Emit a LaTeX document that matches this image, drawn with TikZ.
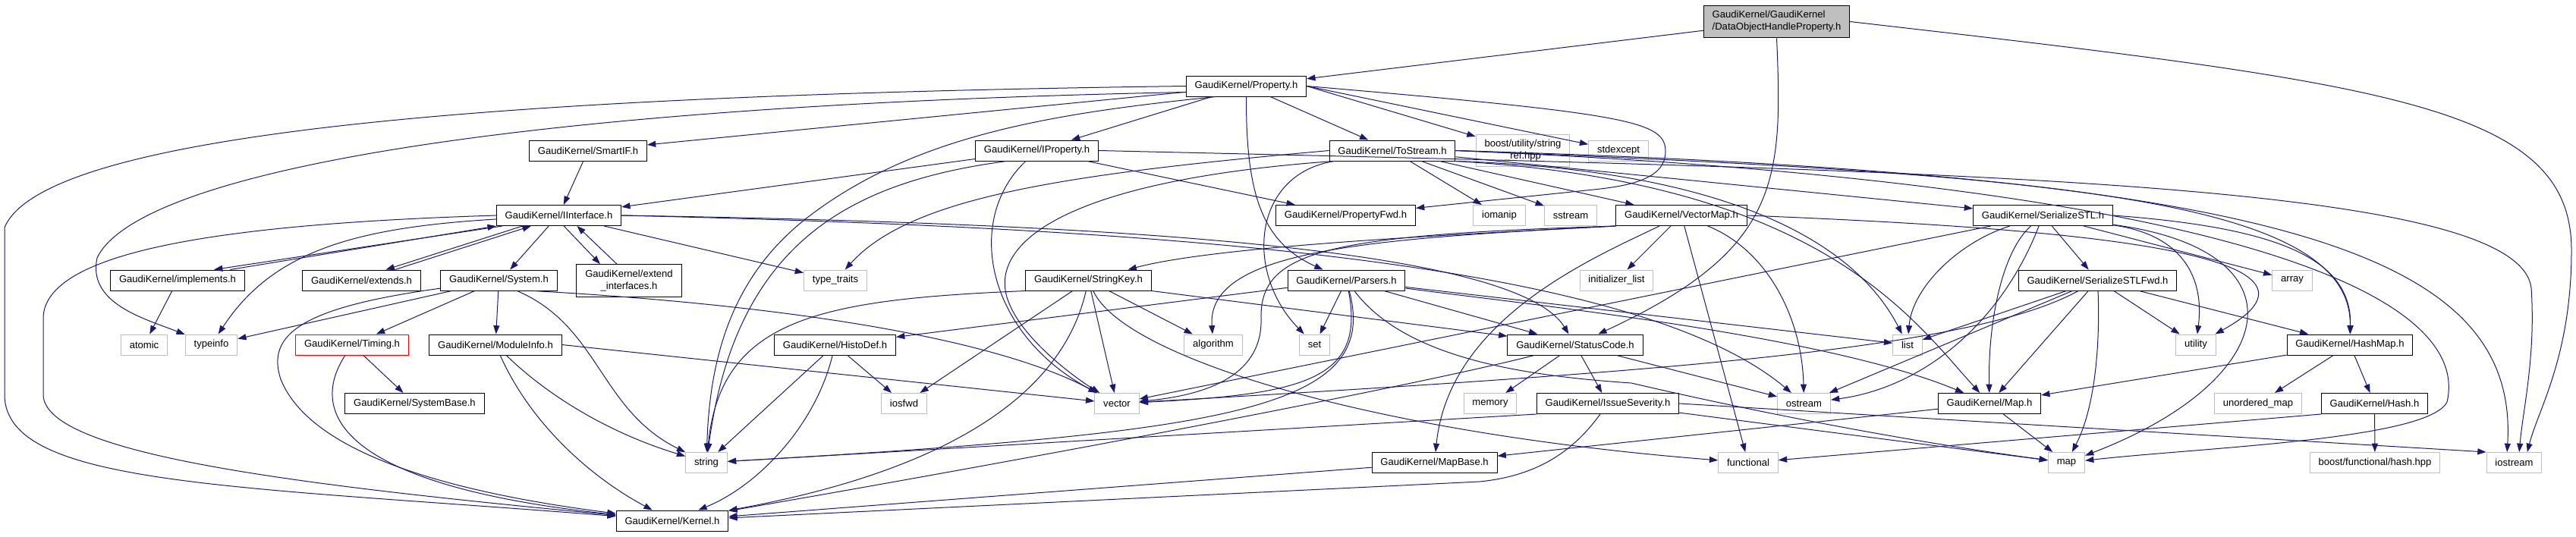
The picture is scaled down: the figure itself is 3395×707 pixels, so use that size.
\documentclass[tikz,border=0pt]{standalone}
\usepackage{fontspec}
\setmainfont{Liberation Sans}
\usetikzlibrary{arrows.meta}
\definecolor{edgeblue}{HTML}{191970}
\definecolor{lgray}{HTML}{BFBFBF}

\begin{document}
\begin{tikzpicture}[x=0.75pt,y=-0.75pt,font=\fontsize{9.8}{12}\selectfont,
  every node/.style={draw,rectangle,inner xsep=8.5pt,inner ysep=5.5pt,minimum height=20.25pt,line width=0.75pt},
  hdr/.style={draw=black},
  ext/.style={draw=lgray},
  dep/.style={draw=edgeblue,line width=0.75pt,-{Triangle[length=8.5pt,width=6pt]}}]
  \useasboundingbox (0,0) rectangle (3395,707);

  % rows of headers, top to bottom
  \node (dohp) at (2341.5,28.5)[hdr,fill=lgray,align=left]{GaudiKernel/GaudiKernel\\/DataObjectHandleProperty.h};
  \node (property) at (1642.5,113.5)[hdr]{GaudiKernel/Property.h};

  \node (smartif) at (775,198.5)[hdr]{GaudiKernel/SmartIF.h};
  \node (iproperty) at (1366.5,198.5)[hdr]{GaudiKernel/IProperty.h};
  \node (tostream) at (1835,198.5)[hdr]{GaudiKernel/ToStream.h};
  \node (stringref) at (2007,198.5)[ext,align=center]{boost/utility/string\\\_ref.hpp};
  \node (stdexcept) at (2133,198.5)[ext]{stdexcept};

  \node (iinterface) at (736.5,284)[hdr]{GaudiKernel/IInterface.h};
  \node (propertyfwd) at (1773.5,284)[hdr]{GaudiKernel/PropertyFwd.h};
  \node (iomanip) at (1976,284)[ext]{iomanip};
  \node (sstream) at (2070,284)[ext]{sstream};
  \node (vectormap) at (2216,284)[hdr]{GaudiKernel/VectorMap.h};
  \node (serializestl) at (2692.5,284)[hdr]{GaudiKernel/SerializeSTL.h};

  \node (implements) at (234,369.5)[hdr]{GaudiKernel/implements.h};
  \node (extends) at (476.5,369.5)[hdr]{GaudiKernel/extends.h};
  \node (system) at (657.5,369.5)[hdr]{GaudiKernel/System.h};
  \node (extendif) at (829,370)[hdr,align=center]{GaudiKernel/extend\\\_interfaces.h};
  \node (typetraits) at (1101,369.5)[ext]{type\_traits};
  \node (stringkey) at (1434.5,369.5)[hdr]{GaudiKernel/StringKey.h};
  \node (parsers) at (1774.5,369.5)[hdr]{GaudiKernel/Parsers.h};
  \node (initlist) at (2130.5,369.5)[ext]{initializer\_list};
  \node (serializestlfwd) at (2764.5,369.5)[hdr]{GaudiKernel/SerializeSTLFwd.h};
  \node (array) at (3021,369.5)[ext]{array};

  \node (atomic) at (190,454.5)[ext]{atomic};
  \node (typeinfo) at (278.5,454.5)[ext]{typeinfo};
  \node (timing) at (464,454.5)[draw=red]{GaudiKernel/Timing.h};
  \node (moduleinfo) at (653,454.5)[hdr]{GaudiKernel/ModuleInfo.h};
  \node (histodef) at (1100.5,454.5)[hdr]{GaudiKernel/HistoDef.h};
  \node (algorithm) at (1599,454.5)[ext]{algorithm};
  \node (set) at (1732.5,454.5)[ext]{set};
  \node (statuscode) at (2076,454.5)[hdr]{GaudiKernel/StatusCode.h};
  \node (list) at (2514,454.5)[ext]{list};
  \node (utility) at (2894,454.5)[ext]{utility};
  \node (hashmap) at (3097,454.5)[hdr]{GaudiKernel/HashMap.h};

  \node (systembase) at (546.5,532)[hdr]{GaudiKernel/SystemBase.h};
  \node (iosfwd) at (1191.5,532)[ext]{iosfwd};
  \node (vector) at (1472,532)[ext]{vector};
  \node (memory) at (1964,532)[ext]{memory};
  \node (issueseverity) at (2119,532)[hdr]{GaudiKernel/IssueSeverity.h};
  \node (ostream) at (2377.5,532)[ext]{ostream};
  \node (maph) at (2622,532)[hdr]{GaudiKernel/Map.h};
  \node (unorderedmap) at (2976,532)[ext]{unordered\_map};
  \node (hash) at (3129.5,532)[hdr]{GaudiKernel/Hash.h};

  \node (string) at (931,610)[ext]{string};
  \node (mapbase) at (1890.5,610)[hdr]{GaudiKernel/MapBase.h};
  \node (functional) at (2304,610)[ext]{functional};
  \node (map) at (2723.5,610)[ext]{map};
  \node (boosthash) at (3130,610)[ext]{boost/functional/hash.hpp};
  \node (iostream) at (3313.5,610)[ext]{iostream};

  \node (kernel) at (886,686.5)[hdr]{GaudiKernel/Kernel.h};

  % DataObjectHandleProperty.h
  \draw[dep] (dohp) -- (property);
  \draw[dep] (dohp.south) .. controls (2350,240) and (2345,330) .. (statuscode);
  \draw[dep] (dohp.east) .. controls (3150,110) and (3389,140) .. (3389,330) .. controls (3389,470) and (3345,540) .. ([xshift=13pt]iostream.north);

  % Property.h
  \draw[dep] (property.west) .. controls (700,125) and (60,170) .. (6,300) -- (6,520) .. controls (6,640) and (300,640) .. (kernel);
  \draw[dep] ([yshift=-6pt]property.west) .. controls (650,140) and (180,230) .. (128,340) .. controls (115,400) and (190,420) .. (typeinfo);
  \draw[dep] (property) -- (smartif);
  \draw[dep] (property) -- (iproperty);
  \draw[dep] ([xshift=30pt]property.south west) .. controls (1380,150) and (1200,180) .. (1060,290) .. controls (960,370) and (935,480) .. (string);
  \draw[dep] (property.south) .. controls (1642,260) and (1665,320) .. (parsers);
  \draw[dep] (property) -- (tostream);
  \draw[dep] (property.east) -- (stringref);
  \draw[dep] (property.east) -- (stdexcept);
  \draw[dep] (property.east) .. controls (2150,150) and (2195,160) .. (2195,200) .. controls (2195,235) and (2150,245) .. (2100,250) -- (propertyfwd);

  % SmartIF.h
  \draw[dep] (smartif) -- (iinterface);

  % IProperty.h
  \draw[dep] (iproperty) -- (iinterface);
  \draw[dep] (iproperty) -- (propertyfwd);
  \draw[dep] ([xshift=-30pt]iproperty.south) .. controls (1120,240) and (970,320) .. (string);
  \draw[dep] (iproperty) .. controls (1270,290) and (1300,440) .. (vector);
  \draw[dep] (iproperty.east) .. controls (2600,225) and (3320,240) .. (3336,380) .. controls (3342,470) and (3325,540) .. ([xshift=5pt]iostream.north);

  % IInterface.h
  \draw[dep] (iinterface.west) .. controls (300,295) and (57,330) .. (57,420) -- (57,520) .. controls (57,600) and (400,640) .. (kernel);
  \draw[dep] (iinterface) .. controls (470,300) and (360,330) .. (typeinfo);
  \draw[dep] ([xshift=6pt]iinterface.south west) -- ([xshift=36pt]implements.north);
  \draw[dep] ([xshift=52pt]implements.north) -- (iinterface.south west);
  \draw[dep] ([xshift=26pt]iinterface.south west) -- ([xshift=24pt]extends.north);
  \draw[dep] ([xshift=33pt]extends.north) -- ([xshift=34.5pt]iinterface.south west);
  \draw[dep] ([xshift=52pt]iinterface.south west) -- ([xshift=11pt]system.north);
  \draw[dep] ([xshift=5pt]iinterface.south) -- ([xshift=-28.5pt]extendif.north);
  \draw[dep] ([xshift=-12pt]extendif.north) -- ([xshift=18pt]iinterface.south);
  \draw[dep] (iinterface) -- (typetraits);
  \draw[dep] (iinterface.east) .. controls (1500,295) and (2000,330) .. (statuscode);
  \draw[dep] (iinterface.east) .. controls (1500,300) and (2150,340) .. (ostream);

  % implements.h
  \draw[dep] (implements) -- (atomic);

  % System.h
  \draw[dep] (system) -- (typeinfo);
  \draw[dep] (system) .. controls (400,405) and (350,440) .. (370,500) .. controls (410,600) and (600,650) .. (kernel);
  \draw[dep] (system) -- (timing);
  \draw[dep] (system) -- (moduleinfo);
  \draw[dep] ([xshift=18pt]system.south) .. controls (790,430) and (790,540) .. (string);
  \draw[dep] ([xshift=-24pt]system.south east) .. controls (1000,400) and (1300,440) .. (vector);

  % Timing.h
  \draw[dep] (timing) -- (systembase);
  \draw[dep] (timing) .. controls (405,545) and (450,640) .. (kernel);

  % ModuleInfo.h
  \draw[dep] (moduleinfo) .. controls (700,560) and (780,630) .. (kernel);
  \draw[dep] (moduleinfo) .. controls (720,520) and (800,570) .. (string);
  \draw[dep] (moduleinfo.east) -- (vector);

  % HistoDef.h
  \draw[dep] (histodef) -- (iosfwd);
  \draw[dep] (histodef) -- (string);
  \draw[dep] (histodef) .. controls (1075,560) and (1000,640) .. (kernel);

  % StringKey.h
  \draw[dep] (stringkey.south west) .. controls (1080,395) and (950,420) .. (string);
  \draw[dep] (stringkey) -- (iosfwd);
  \draw[dep] (stringkey) .. controls (1400,520) and (1250,620) .. (kernel);
  \draw[dep] (stringkey) -- (vector);
  \draw[dep] (stringkey) -- (algorithm);
  \draw[dep] (stringkey) .. controls (1480,470) and (1800,570) .. (functional);
  \draw[dep] (stringkey.south east) -- (statuscode);

  % Parsers.h
  \draw[dep] (parsers) -- (histodef);
  \draw[dep] (parsers) -- (set);
  \draw[dep] (parsers) -- (statuscode);
  \draw[dep] (parsers) -- (list);
  \draw[dep] (parsers) .. controls (1800,500) and (1720,520) .. (vector);
  \draw[dep] (parsers) .. controls (1820,540) and (1620,570) .. (string);
  \draw[dep] (parsers) .. controls (1850,470) and (2000,495) .. (2150,505) .. controls (2300,540) and (2500,580) .. (map);
  \draw[dep] (parsers) .. controls (2000,400) and (2400,440) .. (maph);

  % ToStream.h
  \draw[dep] (tostream.west) .. controls (1400,230) and (1200,260) .. (typetraits);
  \draw[dep] ([xshift=4pt]tostream.south west) .. controls (1380,240) and (1300,330) .. (1330,400) .. controls (1350,450) and (1420,500) .. (vector);
  \draw[dep] ([xshift=5pt]tostream.south west) .. controls (1650,230) and (1640,360) .. (set);
  \draw[dep] (tostream) -- (iomanip);
  \draw[dep] (tostream) -- (sstream);
  \draw[dep] (tostream) -- (vectormap);
  \draw[dep] (tostream) -- (serializestl);
  \draw[dep] (tostream.south east) .. controls (2300,225) and (2450,330) .. (list);
  \draw[dep] (tostream.south east) .. controls (2400,240) and (2520,420) .. (maph);
  \draw[dep] (tostream.east) .. controls (2700,230) and (3100,260) .. (hashmap);
  \draw[dep] (tostream.east) .. controls (2900,240) and (3260,380) .. (3225,530) .. controls (3200,580) and (2900,590) .. (map);
  \draw[dep] (tostream.east) .. controls (3000,230) and (3320,330) .. ([xshift=-7pt]iostream.north);

  % VectorMap.h
  \draw[dep] (vectormap.south west) .. controls (1900,310) and (1600,325) .. (stringkey);
  \draw[dep] (vectormap.south west) .. controls (1800,315) and (1590,330) .. (algorithm);
  \draw[dep] (vectormap) -- (initlist);
  \draw[dep] (vectormap) .. controls (2100,340) and (1910,420) .. (mapbase);
  \draw[dep] (vectormap) -- (functional);
  \draw[dep] (vectormap) .. controls (2330,330) and (2375,420) .. (ostream);
  \draw[dep] (vectormap.east) .. controls (2700,300) and (3120,330) .. (utility);
  \draw[dep] (vectormap.south west) .. controls (1750,310) and (1660,330) .. (1662,420) .. controls (1664,490) and (1600,520) .. (vector);

  % SerializeSTL.h
  \draw[dep] (serializestl) .. controls (2580,320) and (2520,380) .. (list);
  \draw[dep] (serializestl) -- (vector);
  \draw[dep] (serializestl) .. controls (2640,420) and (2540,510) .. (ostream);
  \draw[dep] (serializestl) .. controls (2640,330) and (2620,420) .. (maph);
  \draw[dep] (serializestl) .. controls (3040,330) and (3010,500) .. (map);
  \draw[dep] (serializestl) .. controls (2880,310) and (2905,370) .. (utility);
  \draw[dep] (serializestl) -- (array);
  \draw[dep] (serializestl) -- (serializestlfwd);
  \draw[dep] (serializestl.east) .. controls (3000,300) and (3100,340) .. (hashmap);

  % SerializeSTLFwd.h
  \draw[dep] (serializestlfwd) -- (list);
  \draw[dep] (serializestlfwd) -- (ostream);
  \draw[dep] (serializestlfwd) .. controls (2600,460) and (2200,490) .. (vector);
  \draw[dep] (serializestlfwd) -- (maph);
  \draw[dep] (serializestlfwd) .. controls (2768,460) and (2760,540) .. (map);
  \draw[dep] (serializestlfwd) -- (utility);
  \draw[dep] (serializestlfwd) -- (hashmap);

  % StatusCode.h
  \draw[dep] (statuscode) .. controls (1900,500) and (1500,580) .. (kernel);
  \draw[dep] (statuscode) -- (memory);
  \draw[dep] (statuscode) -- (issueseverity);
  \draw[dep] (statuscode) -- (ostream);

  % IssueSeverity.h
  \draw[dep] (issueseverity.south west) -- (string);
  \draw[dep] (issueseverity) .. controls (2070,600) and (2020,628) .. (1950,635) -- (kernel);
  \draw[dep] (issueseverity) -- (map);
  \draw[dep] (issueseverity.east) -- (iostream.north west);

  % MapBase.h, Map.h
  \draw[dep] (mapbase) -- (kernel);
  \draw[dep] (maph) -- (map);
  \draw[dep] (maph) -- (mapbase);

  % HashMap.h, Hash.h
  \draw[dep] (hashmap) -- (maph);
  \draw[dep] (hashmap) -- (unorderedmap);
  \draw[dep] (hashmap) -- (hash);
  \draw[dep] (hash.south west) -- (functional);
  \draw[dep] (hash) -- (boosthash);
\end{tikzpicture}
\end{document}
